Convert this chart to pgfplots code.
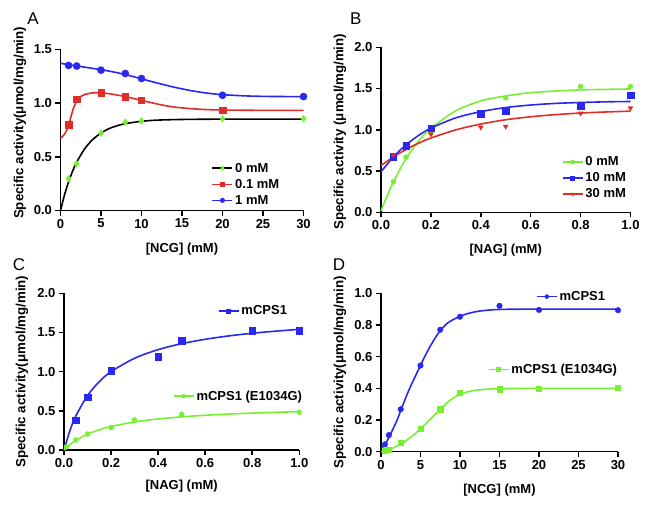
\documentclass[border=0pt]{standalone}
\usepackage{fontspec}
\setmainfont{Liberation Sans}
\usepackage{pgfplots}
\pgfplotsset{compat=1.18}
\definecolor{bC}{RGB}{40,40,240}
\definecolor{rC}{RGB}{225,45,40}
\definecolor{gC}{RGB}{120,240,50}
\pgfplotsset{
  prism/.style={
    scale only axis,
    axis lines=left,
    axis line style={-, line width=1.5pt, black},
    tick align=outside,
    major tick length=5pt,
    tick style={black, line width=1.5pt},
    tick label style={font=\fontsize{13}{15}\selectfont\bfseries},
    legend style={font=\fontsize{13}{15}\selectfont\bfseries, draw=none, fill=none, anchor=north west, inner sep=0pt, outer sep=0pt, row sep=1.5pt},
    legend cell align=left,
    clip=false,
    every axis y label/.style={rotate=90, anchor=center, font=\fontsize{13.3}{15}\selectfont\bfseries},
    every axis x label/.style={anchor=center, font=\fontsize{13}{15}\selectfont\bfseries},
    legend image code/.code={\draw[mark repeat=2,mark phase=2,#1,line width=1.6pt] plot coordinates {(0pt,0pt) (10pt,0pt) (20pt,0pt)};},
  },
  curve/.style={no marks, smooth, line width=1.6pt, forget plot},
  pts/.style={only marks, forget plot},
}
\begin{document}
\begin{tikzpicture}
\useasboundingbox (0,0) rectangle (649pt,507pt);
% ---------------- Panel A
\begin{axis}[prism, at={(60.5pt,296.5pt)}, anchor=south west, width=243pt, height=161.2pt,
  xmin=0, xmax=30, ymin=0, ymax=1.5,
  xtick={0,5,10,15,20,25,30}, xticklabels={0,5,10,15,20,25,30},
  ytick={0,0.5,1,1.5}, yticklabels={0.0,0.5,1.0,1.5},
  xlabel={[NCG] (mM)}, ylabel={Specific activity(μmol/mg/min)},
  xlabel style={at={([yshift=-39pt]axis description cs:0.5,0)}},
  ylabel style={at={([xshift=-40.5pt,yshift=7pt]axis description cs:0,0.5)}},
  legend style={at={(rel axis cs:0.622,0.307)}}]
\addplot[curve, black] coordinates {(0,0) (0.5,0.146) (1,0.267) (1.5,0.367) (2,0.45) (3,0.576) (4,0.662) (5,0.721) (6,0.762) (7,0.789) (8,0.808) (10,0.830) (12,0.841) (15,0.847) (20,0.85) (30,0.85)};
\addplot[curve, rC] coordinates {(0,0.67) (0.5,0.71) (1,0.79) (1.5,0.93) (2,1.02) (2.5,1.06) (3,1.08) (4,1.095) (5,1.095) (6,1.087) (8,1.06) (10,1.025) (12,0.99) (14,0.963) (17,0.943) (20,0.935) (25,0.932) (30,0.932)};
\addplot[curve, bC] coordinates {(0,1.37) (1,1.357) (2,1.345) (4,1.322) (6,1.297) (8,1.265) (10,1.225) (12,1.185) (14,1.148) (16,1.117) (18,1.093) (20,1.078) (23,1.066) (26,1.061) (30,1.06)};
\addplot[pts, mark=diamond*, mark size=3.4pt, draw=gC, fill=gC] coordinates {(1,0.297) (2,0.433) (5,0.72) (8,0.822) (10,0.834) (20,0.855) (30,0.855)};
\addplot[pts, mark=square*, mark size=3.2pt, draw=rC, fill=rC] coordinates {(1,0.80) (2,1.037) (5,1.095) (8,1.06) (10,1.025) (20,0.935)};
\addplot[pts, mark=*, mark size=3.6pt, draw=bC, fill=bC] coordinates {(1,1.35) (2,1.344) (5,1.306) (8,1.275) (10,1.228) (20,1.072) (30,1.06)};
\addlegendimage{black, mark=diamond*, mark size=2.3pt, mark options={draw=gC, fill=gC, line width=0.4pt}}
\addlegendentry{0 mM}
\addlegendimage{rC, mark=square*, mark size=2pt, mark options={draw=rC, fill=rC, line width=0.4pt}}
\addlegendentry{0.1 mM}
\addlegendimage{bC, mark=*, mark size=2.3pt, mark options={draw=bC, fill=bC, line width=0.4pt}}
\addlegendentry{1 mM}
\end{axis}
% ---------------- Panel B
\begin{axis}[prism, at={(381pt,294.7pt)}, anchor=south west, width=249.5pt, height=165pt,
  xmin=0, xmax=1, ymin=0, ymax=2,
  xtick={0,0.2,0.4,0.6,0.8,1}, xticklabels={0.0,0.2,0.4,0.6,0.8,1.0},
  ytick={0,0.5,1,1.5,2}, yticklabels={0.0,0.5,1.0,1.5,2.0},
  xlabel={[NAG] (mM)}, ylabel={Specific activity (μmol/mg/min)},
  xlabel style={at={([yshift=-38pt]axis description cs:0.5,0)}},
  ylabel style={at={([xshift=-41pt,yshift=-2pt]axis description cs:0,0.5)}},
  legend style={at={(rel axis cs:0.725,0.349)}}]
\addplot[curve, gC] coordinates {(0,0.02) (0.025,0.2) (0.05,0.37) (0.1,0.65) (0.15,0.86) (0.2,1.02) (0.3,1.23) (0.4,1.35) (0.5,1.41) (0.6,1.45) (0.7,1.47) (0.8,1.484) (0.9,1.49) (1.0,1.495)};
\addplot[curve, bC] coordinates {(0,0.49) (0.05,0.673) (0.1,0.817) (0.15,0.93) (0.2,1.02) (0.3,1.145) (0.4,1.22) (0.5,1.27) (0.6,1.30) (0.7,1.32) (0.8,1.331) (0.9,1.339) (1.0,1.343)};
\addplot[curve, rC] coordinates {(0,0.567) (0.05,0.672) (0.1,0.761) (0.15,0.837) (0.2,0.9) (0.3,0.999) (0.4,1.07) (0.5,1.122) (0.6,1.158) (0.7,1.184) (0.8,1.203) (0.9,1.216) (1.0,1.226)};
\addplot[pts, mark=*, mark size=2.5pt, draw=gC, fill=gC] coordinates {(0.05,0.372) (0.1,0.668) (0.2,0.96) (0.5,1.387) (0.8,1.526) (1.0,1.526)};
\addplot[pts, mark=square*, mark size=3.2pt, draw=bC, fill=bC] coordinates {(0.05,0.676) (0.1,0.806) (0.2,1.02) (0.4,1.194) (0.5,1.225) (0.8,1.283) (1.0,1.42)};
\addplot[pts, mark=triangle*, mark size=2.8pt, mark options={rotate=180}, draw=rC, fill=rC] coordinates {(0.05,0.696) (0.2,0.947) (0.4,1.03) (0.5,1.04) (0.8,1.20) (1.0,1.263)};
\addlegendimage{gC, mark=*, mark size=2pt, mark options={draw=gC, fill=gC, line width=0.4pt}}
\addlegendentry{0 mM}
\addlegendimage{bC, mark=square*, mark size=2pt, mark options={draw=bC, fill=bC, line width=0.4pt}}
\addlegendentry{10 mM}
\addlegendimage{rC, mark=triangle*, mark size=2pt, mark options={draw=rC, fill=rC, rotate=180, line width=0.4pt}}
\addlegendentry{30 mM}
\end{axis}
% ---------------- Panel C
\begin{axis}[prism, at={(64pt,57pt)}, anchor=south west, width=235.3pt, height=156.7pt,
  xmin=0, xmax=1, ymin=0, ymax=2,
  xtick={0,0.2,0.4,0.6,0.8,1}, xticklabels={0.0,0.2,0.4,0.6,0.8,1.0},
  ytick={0,0.5,1,1.5,2}, yticklabels={0.0,0.5,1.0,1.5,2.0},
  xlabel={[NAG] (mM)}, ylabel={Specific activity(μmol/mg/min)},
  xlabel style={at={([yshift=-36.5pt]axis description cs:0.5,0)}},
  ylabel style={at={([xshift=-42pt]axis description cs:0,0.5)}},
  legend style={at={(rel axis cs:0.654,0.934)}}]
\addplot[curve, bC] coordinates {(0,0) (0.025,0.246) (0.05,0.432) (0.1,0.695) (0.15,0.873) (0.2,1.0) (0.3,1.171) (0.4,1.281) (0.5,1.357) (0.6,1.413) (0.7,1.456) (0.8,1.490) (0.9,1.517) (1.0,1.540)};
\addplot[pts, mark=square*, mark size=3.2pt, draw=bC, fill=bC] coordinates {(0.05,0.383) (0.1,0.672) (0.2,1.013) (0.4,1.19) (0.5,1.396) (0.8,1.523) (1.0,1.523)};
\addlegendimage{bC, mark=square*, mark size=2pt, mark options={draw=bC, fill=bC, line width=0.4pt}}
\addlegendentry{mCPS1}
\end{axis}
\begin{axis}[prism, hide axis, at={(64pt,57pt)}, anchor=south west, width=235.3pt, height=156.7pt,
  xmin=0, xmax=1, ymin=0, ymax=2,
  legend style={at={(rel axis cs:0.463,0.391)}}]
\addplot[curve, gC] coordinates {(0,0.0) (0.025,0.068) (0.05,0.122) (0.1,0.202) (0.15,0.258) (0.2,0.300) (0.3,0.358) (0.4,0.396) (0.5,0.423) (0.6,0.443) (0.7,0.459) (0.8,0.471) (0.9,0.481) (1.0,0.49)};
\addplot[pts, mark=*, mark size=2.5pt, draw=gC, fill=gC] coordinates {(0.01,0.04) (0.05,0.128) (0.1,0.204) (0.2,0.285) (0.3,0.383) (0.5,0.455) (1.0,0.481)};
\addlegendimage{gC, mark=*, mark size=2pt, mark options={draw=gC, fill=gC, line width=0.4pt}}
\addlegendentry{mCPS1 (E1034G)}
\end{axis}
% ---------------- Panel D
\begin{axis}[prism, at={(381pt,55.3pt)}, anchor=south west, width=237pt, height=158.4pt,
  xmin=0, xmax=30, ymin=0, ymax=1,
  xtick={0,5,10,15,20,25,30}, xticklabels={0,5,10,15,20,25,30},
  ytick={0,0.2,0.4,0.6,0.8,1}, yticklabels={0.0,0.2,0.4,0.6,0.8,1.0},
  xlabel={[NCG] (mM)}, ylabel={Specific activity(μmol/mg/min)},
  xlabel style={at={([yshift=-38pt]axis description cs:0.5,0)}},
  ylabel style={at={([xshift=-41pt]axis description cs:0,0.5)}},
  legend style={at={(rel axis cs:0.654,1.025)}}]
\addplot[curve, bC] coordinates {(0,0.02) (0.5,0.045) (1,0.09) (2,0.195) (2.5,0.26) (3.5,0.385) (5,0.545) (6,0.645) (7,0.73) (7.5,0.765) (8.5,0.815) (10,0.855) (11,0.872) (12.5,0.888) (15,0.898) (20,0.9) (30,0.9)};
\addplot[pts, mark=*, mark size=2.8pt, draw=bC, fill=bC] coordinates {(0.5,0.046) (1,0.105) (2.5,0.268) (5,0.544) (7.5,0.77) (10,0.852) (15,0.921) (20,0.895) (30,0.893)};
\addlegendimage{bC, mark=*, mark size=2pt, mark options={draw=bC, fill=bC, line width=0.4pt}}
\addlegendentry{mCPS1}
\end{axis}
\begin{axis}[prism, hide axis, at={(381pt,55.3pt)}, anchor=south west, width=237pt, height=158.4pt,
  xmin=0, xmax=30, ymin=0, ymax=1,
  legend style={at={(rel axis cs:0.451,0.566)}}]
\addplot[curve, gC] coordinates {(0,0) (1,0.012) (2.5,0.048) (4,0.1) (5,0.145) (6.25,0.205) (7.5,0.268) (8.75,0.325) (10,0.362) (11.5,0.384) (13,0.393) (15,0.398) (20,0.4) (30,0.4)};
\addplot[pts, mark=square*, mark size=2.6pt, draw=gC, fill=gC] coordinates {(0.5,0.004) (1,0.015) (2.5,0.055) (5,0.146) (7.5,0.268) (10,0.373) (15,0.395) (20,0.399) (30,0.402)};
\addlegendimage{gC, mark=square*, mark size=2pt, mark options={draw=gC, fill=gC, line width=0.4pt}}
\addlegendentry{mCPS1 (E1034G)}
\end{axis}
% panel letters
\node[font=\fontsize{17}{19}\selectfont] at (33pt,488pt) {A};
\node[font=\fontsize{17}{19}\selectfont] at (355.7pt,488pt) {B};
\node[font=\fontsize{17}{19}\selectfont] at (19pt,242pt) {C};
\node[font=\fontsize{17}{19}\selectfont] at (339pt,242pt) {D};
\end{tikzpicture}
\end{document}
